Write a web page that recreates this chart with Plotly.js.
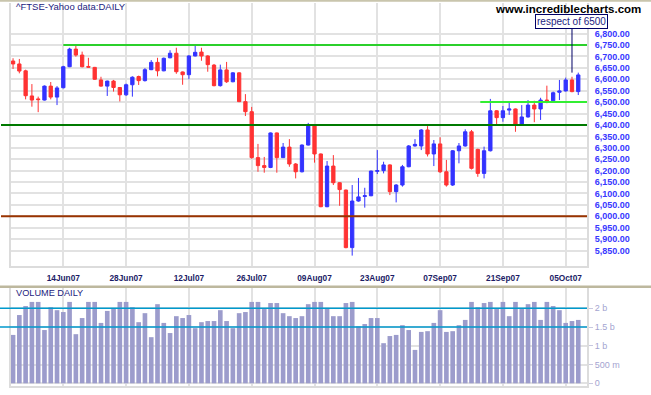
<!DOCTYPE html>
<html>
<head>
<meta charset="utf-8">
<script src="https://cdn.plot.ly/plotly-3.0.1.min.js"></script>
<style>
html,body{margin:0;padding:0;background:#fff;}
#chart{width:651px;height:395px;}
</style>
</head>
<body>
<div id="chart"></div>
<script>
// ---- DATA ----
var dates = [
 '2007-06-04','2007-06-05','2007-06-06','2007-06-07','2007-06-08','2007-06-11','2007-06-12','2007-06-13','2007-06-14','2007-06-15',
 '2007-06-18','2007-06-19','2007-06-20','2007-06-21','2007-06-22','2007-06-25','2007-06-26','2007-06-27','2007-06-28','2007-06-29',
 '2007-07-02','2007-07-03','2007-07-04','2007-07-05','2007-07-06','2007-07-09','2007-07-10','2007-07-11','2007-07-12','2007-07-13',
 '2007-07-16','2007-07-17','2007-07-18','2007-07-19','2007-07-20','2007-07-23','2007-07-24','2007-07-25','2007-07-26','2007-07-27',
 '2007-07-30','2007-07-31','2007-08-01','2007-08-02','2007-08-03','2007-08-06','2007-08-07','2007-08-08','2007-08-09','2007-08-10',
 '2007-08-13','2007-08-14','2007-08-15','2007-08-16','2007-08-17','2007-08-20','2007-08-21','2007-08-22','2007-08-23','2007-08-24',
 '2007-08-28','2007-08-29','2007-08-30','2007-08-31','2007-09-03','2007-09-04','2007-09-05','2007-09-06','2007-09-07','2007-09-10',
 '2007-09-11','2007-09-12','2007-09-13','2007-09-14','2007-09-17','2007-09-18','2007-09-19','2007-09-20','2007-09-21','2007-09-24',
 '2007-09-25','2007-09-26','2007-09-27','2007-09-28','2007-10-01','2007-10-02','2007-10-03','2007-10-04','2007-10-05','2007-10-08',
 '2007-10-09'
];
var openP = [
 6680,6667,6637,6527,6514,6509,6570,6522,6563,6655,
 6732,6706,6656,6652,6597,6570,6592,6564,6532,6576,
 6612,6594,6642,6674,6637,6694,6714,6632,6620,6702,
 6719,6702,6662,6572,6641,6589,6628,6502,6458,6257,
 6222,6214,6365,6257,6303,6229,6195,6312,6395,6273,
 6042,6220,6147,6115,5863,6067,6087,6090,6197,6200,
 6225,6108,6137,6217,6308,6308,6378,6273,6317,6195,
 6137,6287,6308,6370,6293,6188,6287,6462,6432,6465,
 6470,6403,6435,6487,6470,6509,6506,6543,6549,6597,
 6546
];
var highP = [
 6692,6689,6642,6579,6524,6573,6588,6570,6659,6738,
 6754,6721,6694,6654,6611,6594,6597,6566,6581,6613,
 6616,6649,6684,6694,6695,6727,6738,6634,6706,6754,
 6738,6705,6667,6664,6676,6631,6631,6535,6479,6317,
 6260,6367,6367,6321,6338,6233,6315,6409,6400,6275,
 6242,6268,6150,6117,6137,6168,6125,6200,6290,6239,
 6228,6141,6225,6312,6338,6382,6395,6334,6346,6247,
 6290,6321,6381,6378,6296,6305,6514,6465,6483,6497,
 6472,6487,6509,6506,6519,6572,6546,6597,6607,6611,
 6629
];
var lowP = [
 6645,6626,6512,6480,6456,6507,6512,6487,6560,6653,
 6699,6652,6651,6597,6567,6527,6546,6503,6527,6524,
 6575,6590,6640,6613,6635,6692,6624,6576,6600,6700,
 6681,6633,6569,6568,6584,6587,6500,6439,6252,6195,
 6191,6211,6191,6255,6217,6166,6192,6310,6235,6040,
 6040,6137,6046,5860,5828,6064,6038,6088,6185,6188,
 6093,6061,6130,6215,6305,6290,6262,6220,6190,6130,
 6133,6232,6305,6205,6173,6166,6284,6403,6414,6444,
 6370,6400,6432,6412,6422,6495,6499,6509,6546,6543,
 6531
];
var closeP = [
 6667,6636,6528,6509,6511,6570,6522,6562,6655,6732,
 6706,6655,6653,6600,6570,6592,6564,6532,6576,6609,
 6594,6642,6674,6637,6692,6714,6633,6620,6702,6718,
 6702,6664,6572,6641,6589,6628,6502,6458,6257,6222,
 6214,6365,6257,6303,6229,6195,6312,6395,6273,6042,
 6220,6147,6117,5863,6067,6085,6090,6198,6200,6225,
 6108,6137,6217,6308,6315,6378,6273,6317,6195,6137,
 6287,6308,6370,6210,6188,6287,6462,6432,6462,6470,
 6403,6435,6487,6470,6509,6506,6541,6549,6597,6546,
 6619
];
// daily volume, billions of shares
var volumeBn = [
 1.29,1.82,2.06,2.17,2.17,1.42,2.03,1.95,1.90,2.17,
 1.31,1.74,2.17,2.17,1.61,1.93,2.01,2.17,2.17,2.03,
 1.63,1.87,1.23,2.11,1.61,1.34,1.79,1.74,1.82,1.47,
 1.63,1.66,1.66,1.95,1.66,1.47,1.87,1.90,2.17,2.17,
 1.98,2.14,2.14,1.87,1.79,1.74,1.79,2.11,2.17,2.17,
 2.01,1.79,1.79,2.14,2.17,1.52,1.58,1.74,1.74,1.07,
 1.26,1.29,1.55,1.42,0.89,1.37,1.39,1.61,1.95,1.37,
 1.39,1.55,1.69,2.17,2.03,2.14,2.17,1.98,2.17,1.79,
 2.17,1.98,2.11,2.17,1.69,2.17,2.06,1.95,1.61,1.66,1.69
];
var tickDates = ['2007-06-14','2007-06-28','2007-07-12','2007-07-26','2007-08-09','2007-08-23','2007-09-07','2007-09-21','2007-10-05'];
var tickLabels = ['14Jun07','28Jun07','12Jul07','26Jul07','09Aug07','23Aug07','07Sep07','21Sep07','05Oct07'];
var priceTicks = [5850,5900,5950,6000,6050,6100,6150,6200,6250,6300,6350,6400,6450,6500,6550,6600,6650,6700,6750,6800];
var volTicks = [0, 0.5, 1, 1.5, 2];
var volTickLabels = ['0', '500 m', '1 b', '1.5 b', '2 b'];
var levels = {resistanceHigh: 6750, support6500: 6500, support6400: 6400, support6000: 6000};
var volLevels = [1.5, 2];
var annotationText = 'respect of 6500';

// ---- BUILD ----
var idx = dates.map(function(d, i){ return i; });
var tickIdx = tickDates.map(function(d){ return dates.indexOf(d); });
var xRange = [-0.328, 91.39];
var gridC = '#e2e2e2';
var frameC = '#dcdcdc';
var topTick = priceTicks[priceTicks.length - 1];

var candle = {
  type: 'candlestick', x: idx, open: openP, high: highP, low: lowP, close: closeP,
  xaxis: 'x', yaxis: 'y',
  increasing: {line: {color: '#3333ff', width: 1}, fillcolor: '#3333ff'},
  decreasing: {line: {color: '#ff3333', width: 1}, fillcolor: '#ff3333'},
  whiskerwidth: 0, hoverinfo: 'skip'
};
var vol = {
  type: 'bar', x: idx, y: volumeBn, xaxis: 'x2', yaxis: 'y2',
  marker: {color: '#9c9ccc'}, width: 0.74, hoverinfo: 'skip'
};

function py(p){ return (386 - p) / 383; }   // pixel row -> paper y
function px(p){ return (p - 11) / 576; }    // pixel col -> paper x

var shapes = [
  // the top tick has no grid line in the reference
  {type:'line', xref:'paper', yref:'y', x0: 0.002, x1: 0.998, y0: topTick, y1: topTick, line:{color:'#ffffff', width:3}, layer:'between'},
  {type:'line', xref:'x', yref:'y', x0: 8, x1: 95, y0: levels.resistanceHigh, y1: levels.resistanceHigh, line:{color:'#2bd02b', width:2}, layer:'above'},
  {type:'line', xref:'x', yref:'y', x0: 74.4, x1: 95, y0: levels.support6500, y1: levels.support6500, line:{color:'#33ee33', width:2}, layer:'above'},
  {type:'line', xref:'paper', yref:'y', x0: px(1), x1: 1, y0: levels.support6400, y1: levels.support6400, line:{color:'#007a00', width:2}, layer:'above'},
  {type:'line', xref:'paper', yref:'y', x0: px(1), x1: 1, y0: levels.support6000, y1: levels.support6000, line:{color:'#993300', width:2}, layer:'above'},
  {type:'line', xref:'paper', yref:'y2', x0: px(0), x1: 1, y0: volLevels[0], y1: volLevels[0], line:{color:'#0099cc', width:1.5}, layer:'above'},
  {type:'line', xref:'paper', yref:'y2', x0: px(0), x1: 1, y0: volLevels[1], y1: volLevels[1], line:{color:'#0099cc', width:1.5}, layer:'above'},
  {type:'line', xref:'paper', yref:'paper', x0: px(0), x1: px(651), y0: py(0.8), y1: py(0.8), line:{color:'#c9c5ad', width:2}},
  {type:'line', xref:'paper', yref:'paper', x0: px(0), x1: px(651), y0: py(286.8), y1: py(286.8), line:{color:'#bdb89e', width:2.5}}
];

var annotations = [
  {xref:'paper', yref:'paper', x: px(15), y: py(6), xanchor:'left', yanchor:'middle', showarrow:false,
   text:'^FTSE-Yahoo data:DAILY', font:{family:'Liberation Sans, Arial, sans-serif', size:9.5, color:'#1c1c80'}, borderpad:0},
  {xref:'paper', yref:'paper', x: px(642), y: py(8.5), xanchor:'right', yanchor:'middle', showarrow:false,
   text:'www.incrediblecharts.com', font:{family:'Liberation Sans, Arial, sans-serif', size:11.5, color:'#000000', weight:'bold'}, borderpad:0},
  {xref:'paper', yref:'paper', x: px(15), y: py(293.3), xanchor:'left', yanchor:'middle', showarrow:false,
   text:'VOLUME DAILY', font:{family:'Liberation Sans, Arial, sans-serif', size:9.2, color:'#1c1c80'}, borderpad:0},
  {xref:'x', yref:'y', x: 89, y: 6629, ax: 0, ay: -51.5, showarrow:true, arrowhead:0, arrowwidth:1, arrowcolor:'#000066',
   text: annotationText, font:{family:'Liberation Sans, Arial, sans-serif', size:10, color:'#1c1c80'},
   bgcolor:'#ffffff', bordercolor:'#000066', borderwidth:1, borderpad:1}
];

var layout = {
  width: 651, height: 395,
  margin: {l: 11, r: 64, t: 3, b: 9, pad: 0},
  paper_bgcolor: '#ffffff', plot_bgcolor: '#ffffff',
  showlegend: false, hovermode: false, dragmode: false,
  boxgap: 0.25,
  xaxis: {
    type:'linear', range: xRange, domain:[0,1], anchor:'y',
    tickmode:'array', tickvals: tickIdx, ticktext: tickLabels,
    ticks:'', ticklabelstandoff: 3, showgrid:true, gridcolor:gridC, gridwidth:2, zeroline:false,
    showline:true, linecolor:frameC, linewidth:2, mirror:false,
    tickfont:{family:'Liberation Sans, Arial, sans-serif', size:8.3, color:'#1c1c66', weight:'bold'},
    rangeslider:{visible:false}, fixedrange:true
  },
  yaxis: {
    domain:[py(266), 1], range:[5782.5, 6933.9], side:'right', anchor:'x',
    tickmode:'array', tickvals: priceTicks, tickformat:',.2f',
    ticks:'outside', ticklen:4, tickcolor:'rgba(0,0,0,0)',
    showgrid:true, gridcolor:gridC, gridwidth:2, zeroline:false,
    showline:true, linecolor:frameC, linewidth:2, mirror:true,
    tickfont:{family:'Liberation Sans, Arial, sans-serif', size:9, color:'#3838ff', weight:'bold'}, fixedrange:true
  },
  xaxis2: {
    type:'linear', range: xRange, domain:[0,1], anchor:'y2',
    tickmode:'array', tickvals: tickIdx, showticklabels:false, ticks:'',
    showgrid:true, gridcolor:gridC, gridwidth:2, zeroline:false,
    showline:true, linecolor:frameC, linewidth:2, fixedrange:true
  },
  yaxis2: {
    domain:[0, py(288)], range:[-0.072, 2.541], side:'right', anchor:'x2',
    tickmode:'array', tickvals: volTicks, ticktext: volTickLabels,
    ticks:'outside', ticklen:4, tickcolor:'#c8c8e0', tickwidth:1,
    showgrid:true, gridcolor:gridC, gridwidth:2, zeroline:false,
    showline:true, linecolor:frameC, linewidth:2, mirror:true,
    tickfont:{family:'Liberation Sans, Arial, sans-serif', size:9, color:'#a4a4d0'}, fixedrange:true
  },
  shapes: shapes,
  annotations: annotations
};

Plotly.newPlot('chart', [candle, vol], layout, {displayModeBar:false, staticPlot:true});
</script>
</body>
</html>
